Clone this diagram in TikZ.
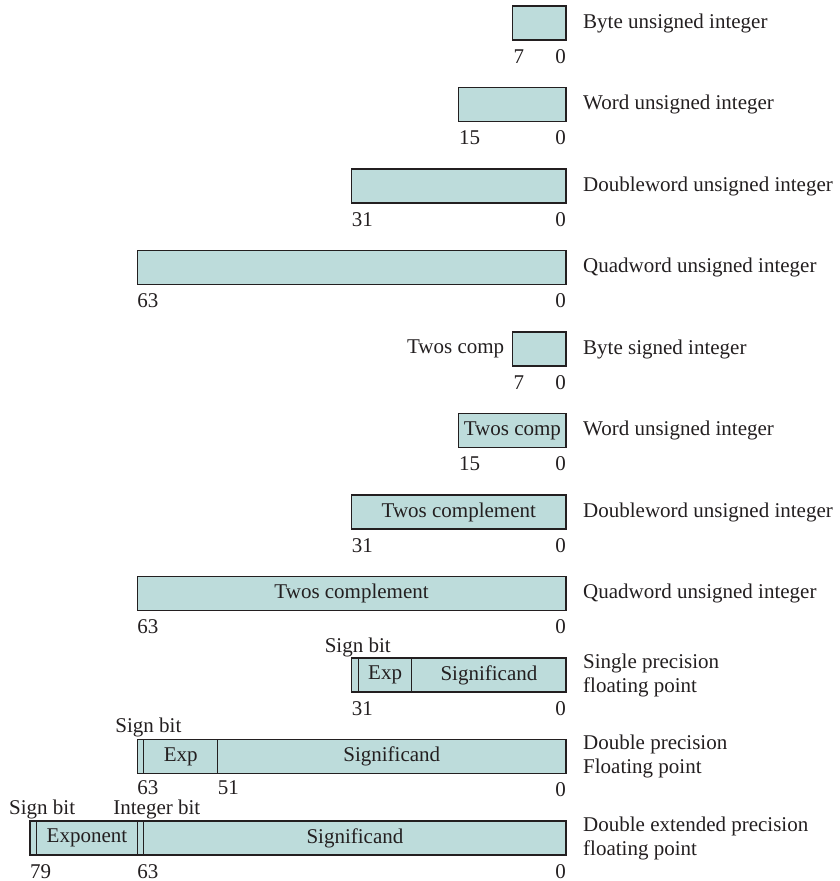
\documentclass[tikz,border=0pt]{standalone}
\usepackage{fontspec}
\setmainfont{Liberation Serif}
\usetikzlibrary{positioning}
\definecolor{fieldteal}{RGB}{189,220,219}
\definecolor{inkgray}{RGB}{35,31,32}
\tikzset{
  fld/.style={
    draw=inkgray,
    fill=fieldteal,
    line width=1.1pt,
    minimum height=34pt,
    inner sep=0pt,
    outer sep=0pt,
    text=inkgray
  },
  bitnum/.style={
    inner sep=0pt,
    text=inkgray
  },
  desc/.style={
    inner sep=0pt,
    align=left,
    anchor=west,
    text=inkgray
  },
  tag/.style={
    inner sep=0pt,
    anchor=base west,
    text=inkgray
  }
}

\begin{document}
\begin{tikzpicture}[x=1pt,y=-1pt,font=\fontsize{21}{24}\selectfont]
\useasboundingbox (0,0) rectangle (839,881);
% unsigned integers
\node[fld,minimum width=53.6pt,anchor=north east] (ub) at (566,6) {};
\node[fld,minimum width=107.2pt,anchor=north east] (uw) at (566,87.5) {};
\node[fld,minimum width=214.4pt,anchor=north east] (ud) at (566,169) {};
\node[fld,minimum width=428.8pt,anchor=north east] (uq) at (566,250.5) {};
\node[desc,right=17pt of ub] (ubt) {Byte unsigned integer};
\node[desc,right=17pt of uw] (uwt) {Word unsigned integer};
\node[desc,right=17pt of ud] (udt) {Doubleword unsigned integer};
\node[desc,right=17pt of uq] (uqt) {Quadword unsigned integer};
\node[bitnum,anchor=base west] (ub7) at ([xshift=1pt,yshift=-23pt]ub.south west) {7};
\node[bitnum,anchor=base east] (ub0) at ([yshift=-23pt]ub.south east) {0};
\node[bitnum,anchor=base west] (uw15) at ([yshift=-23pt]uw.south west) {15};
\node[bitnum,anchor=base east] (uw0) at ([yshift=-23pt]uw.south east) {0};
\node[bitnum,anchor=base west] (ud31) at ([yshift=-23pt]ud.south west) {31};
\node[bitnum,anchor=base east] (ud0) at ([yshift=-23pt]ud.south east) {0};
\node[bitnum,anchor=base west] (uq63) at ([yshift=-23pt]uq.south west) {63};
\node[bitnum,anchor=base east] (uq0) at ([yshift=-23pt]uq.south east) {0};
% signed integers
\node[fld,minimum width=53.6pt,anchor=north east] (sb) at (566,332) {};
\node[fld,minimum width=107.2pt,anchor=north east] (sw) at (566,413.5) {Twos comp};
\node[fld,minimum width=214.4pt,anchor=north east] (sd) at (566,495) {Twos complement};
\node[fld,minimum width=428.8pt,anchor=north east] (sq) at (566,576.5) {Twos complement};
\node[desc,left=8pt of sb] (sbl) {Twos comp};
\node[desc,right=17pt of sb] (sbt) {Byte signed integer};
\node[desc,right=17pt of sw] (swt) {Word unsigned integer};
\node[desc,right=17pt of sd] (sdt) {Doubleword unsigned integer};
\node[desc,right=17pt of sq] (sqt) {Quadword unsigned integer};
\node[bitnum,anchor=base west] (sb7) at ([xshift=1pt,yshift=-23pt]sb.south west) {7};
\node[bitnum,anchor=base east] (sb0) at ([yshift=-23pt]sb.south east) {0};
\node[bitnum,anchor=base west] (sw15) at ([yshift=-23pt]sw.south west) {15};
\node[bitnum,anchor=base east] (sw0) at ([yshift=-23pt]sw.south east) {0};
\node[bitnum,anchor=base west] (sd31) at ([yshift=-23pt]sd.south west) {31};
\node[bitnum,anchor=base east] (sd0) at ([yshift=-23pt]sd.south east) {0};
\node[bitnum,anchor=base west] (sq63) at ([yshift=-23pt]sq.south west) {63};
\node[bitnum,anchor=base east] (sq0) at ([yshift=-23pt]sq.south east) {0};
% single precision
\node[fld,minimum width=6.7pt,anchor=north west] (fs) at (351.6,658) {};
\node[fld,minimum width=53.6pt,right=0pt of fs] (fse) {Exp};
\node[fld,minimum width=154.1pt,right=0pt of fse] (fsm) {Significand};
\node[tag] (fsl) at ([xshift=-27pt,yshift=6pt]fs.north west) {Sign bit};
\node[desc,right=17pt of fsm] (fst) {Single precision\\floating point};
\node[bitnum,anchor=base west] (fs31) at ([yshift=-23pt]fs.south west) {31};
\node[bitnum,anchor=base east] (fs0) at ([yshift=-23pt]fsm.south east) {0};
% double precision
\node[fld,minimum width=6.7pt,anchor=north west] (ds) at (137.2,739.5) {};
\node[fld,minimum width=73.7pt,right=0pt of ds] (dse) {Exp};
\node[fld,minimum width=348.4pt,right=0pt of dse] (dsm) {Significand};
\node[tag] (dsl) at ([xshift=-22pt,yshift=7pt]ds.north west) {Sign bit};
\node[desc,right=17pt of dsm] (dst) {Double precision\\Floating point};
\node[bitnum,anchor=base west] (ds63) at ([yshift=-20.5pt]ds.south west) {63};
\node[bitnum,anchor=base west] (ds51) at ([yshift=-20.5pt]dse.south east) {51};
\node[bitnum,anchor=base east] (ds0) at ([yshift=-23pt]dsm.south east) {0};
% double extended precision
\node[fld,minimum width=6.7pt,anchor=north west] (xs) at (30,821) {};
\node[fld,minimum width=100.5pt,right=0pt of xs] (xse) {Exponent};
\node[fld,minimum width=6.7pt,right=0pt of xse] (xsi) {};
\node[fld,minimum width=422.1pt,right=0pt of xsi] (xsm) {Significand};
\node[tag] (xsl) at ([xshift=-21pt,yshift=7pt]xs.north west) {Sign bit};
\node[tag] (xil) at ([xshift=-24pt,yshift=7pt]xsi.north west) {Integer bit};
\node[desc,right=17pt of xsm] (xst) {Double extended precision\\floating point};
\node[bitnum,anchor=base west] (xs79) at ([yshift=-23pt]xs.south west) {79};
\node[bitnum,anchor=base west] (xs63) at ([yshift=-23pt]xse.south east) {63};
\node[bitnum,anchor=base east] (xs0) at ([yshift=-23pt]xsm.south east) {0};
\end{tikzpicture}
\end{document}
